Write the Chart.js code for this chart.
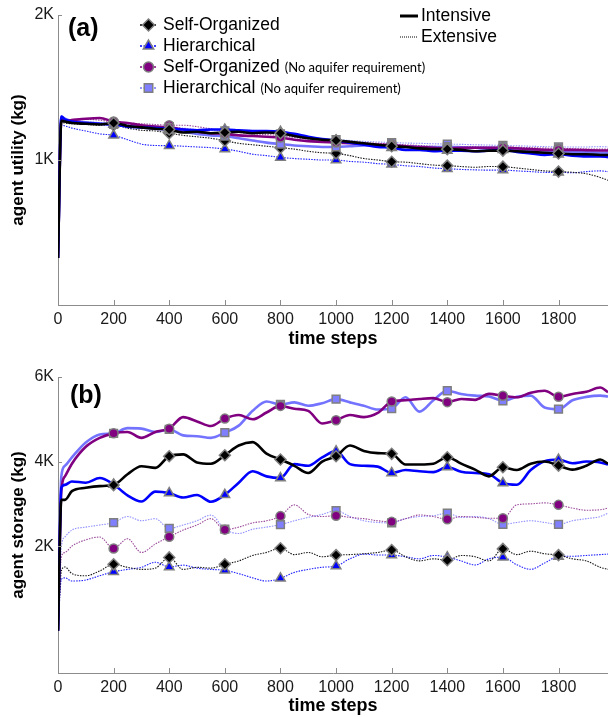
<!DOCTYPE html>
<html>
<head>
<meta charset="utf-8">
<script src="https://cdn.jsdelivr.net/npm/chart.js@4.4.1/dist/chart.umd.min.js"></script>
<style>
  body { margin: 0; background: #fff; }
  #wrap { position: relative; width: 608px; height: 717px; }
  canvas { position: absolute; left: 0; }
</style>
</head>
<body>
<div id="wrap">
  <canvas id="utility" width="608" height="350" style="top:0"></canvas>
  <canvas id="storage" width="608" height="367" style="top:350px"></canvas>
</div>
<script>
// time axis shared by both panels
const timeSteps = [0, 12, 25, 50, 100, 150, 200, 250, 300, 350, 400, 450, 500, 550, 600, 650, 700, 750, 800, 850, 900, 950,
  1000, 1050, 1100, 1150, 1200, 1250, 1300, 1350, 1400, 1450, 1500, 1550, 1600, 1650, 1700, 1750, 1800, 1850, 1900, 1950, 1978]
const xTickValues = [0, 200, 400, 600, 800, 1000, 1200, 1400, 1600, 1800]
const utilityTickValues = [1000, 2000]
const storageTickValues = [2000, 4000, 6000]

const seriesNames = ["Self-Organized", "Hierarchical", "Self-Organized", "Hierarchical"]
const seriesNotes = ["", "", "(No aquifer requirement)", "(No aquifer requirement)"]
const modeNames = ["Intensive", "Extensive"]

// (a) agent utility (kg)
const utilSelfOrgInt = [324,1270,1265,1255,1250,1245,1255,1235,1225,1215,1210,1190,1195,1185,1190,1195,1185,1190,1185,1165,1150,1140,1135,1125,1115,1105,1095,1090,1080,1075,1075,1070,1060,1065,1065,1060,1055,1050,1045,1040,1040,1035,1035]
const utilHierInt = [324,1300,1280,1265,1255,1250,1245,1230,1225,1220,1215,1210,1205,1210,1210,1205,1200,1200,1195,1180,1160,1145,1135,1120,1105,1090,1085,1070,1070,1060,1065,1065,1060,1065,1070,1055,1045,1035,1040,1030,1025,1025,1020]
const utilSelfOrgNaInt = [324,1275,1270,1275,1285,1290,1265,1255,1240,1230,1225,1210,1195,1185,1180,1170,1165,1160,1155,1140,1130,1125,1120,1115,1110,1105,1103,1095,1090,1085,1080,1085,1085,1085,1085,1080,1075,1070,1069,1070,1068,1066,1065]
const utilHierNaInt = [324,1300,1285,1270,1260,1250,1245,1235,1225,1215,1210,1195,1180,1170,1165,1150,1135,1120,1110,1100,1095,1090,1090,1095,1100,1100,1100,1095,1090,1090,1090,1088,1085,1085,1080,1075,1070,1065,1060,1058,1055,1050,1050]
const utilSelfOrgExt = [324,1260,1255,1250,1245,1240,1240,1220,1205,1200,1185,1170,1160,1150,1133,1115,1105,1095,1085,1075,1060,1050,1046,1030,1010,1000,988,985,975,965,961,955,950,955,954,945,935,925,920,915,905,880,860]
const utilHierExt = [324,1240,1235,1220,1200,1180,1170,1140,1110,1100,1099,1095,1090,1085,1076,1060,1040,1030,1018,1010,1005,1000,1000,990,985,975,970,960,955,945,940,935,932,930,931,925,920,915,915,912,920,925,920]
const utilSelfOrgNaExt = [324,1280,1275,1280,1280,1275,1260,1255,1250,1245,1240,1240,1230,1215,1200,1190,1180,1175,1170,1155,1145,1135,1130,1125,1120,1115,1110,1105,1100,1095,1090,1092,1092,1090,1090,1088,1085,1082,1080,1078,1076,1075,1075]
const utilHierNaExt = [324,1295,1285,1275,1265,1258,1250,1245,1240,1235,1230,1220,1210,1205,1200,1195,1190,1185,1180,1165,1155,1145,1140,1135,1128,1124,1120,1117,1115,1112,1110,1108,1105,1103,1100,1098,1095,1092,1090,1090,1090,1092,1090]

// (b) agent storage (kg)
const storSelfOrgInt = [0,3095,3095,3300,3380,3420,3444,3700,3890,3850,4127,4170,3980,3950,4150,4380,4460,4190,4048,3900,3730,4000,4127,4380,4250,4200,4183,3929,3930,3950,4103,3950,3810,3651,3865,3800,3950,4000,3905,3810,3900,4048,3950]
const storHierInt = [0,3380,3450,3530,3500,3610,3460,3200,3055,3290,3254,3150,3210,3050,3214,3500,3770,3650,3611,3940,3900,4100,4246,3940,3900,3880,3730,3800,3770,3750,3873,3760,3730,3700,3492,3452,3800,4008,4048,3960,4000,3980,3929]
const storSelfOrgNaInt = [0,3300,3650,3950,4350,4560,4667,4700,4560,4700,4778,5050,4950,4840,5016,5100,5000,5160,5317,5250,5200,4900,4976,5100,5050,5150,5420,5450,5480,5500,5405,5480,5460,5600,5556,5520,5630,5675,5532,5600,5650,5750,5640]
const storHierNaInt = [0,3650,3900,4100,4450,4640,4667,4790,4780,4700,4760,4620,4600,4560,4683,4850,5200,5420,5350,5400,5320,5380,5476,5400,5320,5230,5254,5520,5180,5450,5675,5600,5560,5540,5437,5530,5560,5278,5238,5450,5530,5560,5540]
const storSelfOrgExt = [0,1412,1507,1350,1300,1412,1570,1500,1450,1480,1733,1450,1500,1480,1570,1650,1780,1852,1950,1800,1850,1750,1788,1800,1820,1850,1910,1750,1652,1700,1665,1780,1750,1650,1935,1800,1880,1820,1788,1700,1650,1500,1452]
const storHierExt = [0,1214,1250,1175,1200,1300,1395,1450,1500,1620,1507,1550,1480,1450,1428,1350,1250,1175,1238,1380,1450,1500,1531,1700,1812,1790,1788,1750,1700,1780,1740,1650,1555,1700,1740,1560,1452,1600,1755,1760,1780,1800,1812]
const storSelfOrgNaExt = [0,1745,1850,2000,2150,2215,1945,2175,1850,2050,2220,2380,2500,2650,2390,2450,2550,2600,2710,2976,2750,2700,2720,2680,2650,2600,2574,2650,2738,2700,2635,2700,2680,2660,2659,2976,3000,3024,2976,2900,2850,2860,2900]
const storHierNaExt = [0,1980,2220,2380,2450,2500,2555,2700,2600,2650,2420,2500,2600,2734,2400,2300,2400,2450,2510,2600,2680,2750,2838,2700,2600,2560,2550,2650,2700,2720,2778,2680,2700,2650,2516,2560,2600,2560,2516,2600,2650,2700,2778]

const FONT = '"Liberation Sans", Arial, sans-serif'
const AXIS_GREY = "#8c8c8c"
const MARKER_EDGE = "#7f7f7f"

// one style per organisation type, in the order of seriesNames
const kinds = [
  { line: "#000000", fill: "#000000", thin: "#1a1a1a", point: "rectRot", radius: 5.5 },
  { line: "#0000ff", fill: "#0000ff", thin: "#1f1fff", point: "triangle", radius: 5.5 },
  { line: "#800080", fill: "#800080", thin: "#9a4a9a", point: "circle", radius: 4.5 },
  { line: "#7373ff", fill: "#7f7fff", thin: "#8f8fff", point: "rect", radius: 5.5 }
]

function series(values, kindIdx, intensive) {
  const k = kinds[kindIdx]
  return {
    data: timeSteps.map((t, i) => ({ x: t, y: values[i] })),
    borderColor: intensive ? k.line : k.thin,
    borderWidth: intensive ? 2.6 : 1.1,
    borderDash: intensive ? [] : [1.5, 1.2],
    cubicInterpolationMode: "monotone",
    pointStyle: k.point,
    pointRadius: timeSteps.map(t => (t > 0 && t % 200 === 0) ? k.radius : 0),
    pointBackgroundColor: k.fill,
    pointBorderColor: MARKER_EDGE,
    pointBorderWidth: 1.5
  }
}

// short inward tick marks like the original figure
const innerTicks = {
  id: "innerTicks",
  afterDraw(chart) {
    const { ctx, chartArea, scales: { x, y } } = chart
    ctx.save()
    ctx.strokeStyle = AXIS_GREY
    ctx.lineWidth = 1
    ctx.beginPath()
    x.ticks.forEach(t => {
      const px = Math.round(x.getPixelForValue(t.value)) + 0.5
      ctx.moveTo(px, chartArea.bottom)
      ctx.lineTo(px, chartArea.bottom - 5)
    })
    y.ticks.forEach(t => {
      const py = Math.round(y.getPixelForValue(t.value)) + 0.5
      ctx.moveTo(chartArea.left, py)
      ctx.lineTo(chartArea.left + 4, py)
    })
    ctx.stroke()
    ctx.restore()
  }
}

// panel tag plus the two in-plot legends of panel (a)
const panelLegend = {
  id: "panelLegend",
  afterDraw(chart, args, opts) {
    const ctx = chart.ctx
    ctx.save()
    ctx.fillStyle = "#000"
    ctx.textBaseline = "middle"
    ctx.font = `bold 25px ${FONT}`
    ctx.fillText(opts.tag, opts.tagX, opts.tagY)

    if (opts.legend) {
      seriesNames.forEach((name, i) => {
        const k = kinds[i]
        const y = 25 + i * 21
        ctx.save()
        ctx.strokeStyle = k.line
        ctx.lineWidth = 1.5
        ctx.setLineDash([2, 1.5])
        ctx.beginPath()
        ctx.moveTo(140, y)
        ctx.lineTo(157, y)
        ctx.stroke()
        ctx.restore()
        ctx.fillStyle = k.fill
        ctx.strokeStyle = MARKER_EDGE
        ctx.lineWidth = 1.5
        Chart.helpers.drawPoint(ctx, { pointStyle: k.point, radius: k.radius + 0.5, rotation: 0, borderWidth: 1.5 }, 148.5, y)
        ctx.fillStyle = "#000"
        ctx.font = `17.5px ${FONT}`
        ctx.fillText(name, 163, y)
        if (seriesNotes[i]) {
          const w = ctx.measureText(name).width
          ctx.font = '13px Lato, "Open Sans", sans-serif'
          ctx.fillText(seriesNotes[i], 163 + w + 5, y + 1)
        }
      })

      modeNames.forEach((name, i) => {
        const y = 16 + i * 21
        ctx.save()
        ctx.strokeStyle = "#000"
        ctx.lineWidth = i === 0 ? 3 : 1
        ctx.setLineDash(i === 0 ? [] : [1, 1])
        ctx.beginPath()
        ctx.moveTo(400, y)
        ctx.lineTo(418, y)
        ctx.stroke()
        ctx.restore()
        ctx.fillStyle = "#000"
        ctx.font = `17.5px ${FONT}`
        ctx.fillText(name, 421, y)
      })
    }
    ctx.restore()
  }
}

function makeOptions(yTitle, yMin, yMax, yTicks, padTop, xHeight, legendOpts) {
  return {
    responsive: false,
    animation: false,
    layout: { padding: { top: padTop, right: 0, left: 0, bottom: 0 } },
    plugins: {
      legend: { display: false },
      tooltip: { enabled: false },
      panelLegend: legendOpts
    },
    scales: {
      x: {
        type: "linear",
        min: 0,
        max: 1978,
        afterBuildTicks: s => { s.ticks = xTickValues.map(v => ({ value: v })) },
        afterFit: s => { s.height = xHeight },
        grid: { drawOnChartArea: false, drawTicks: false },
        border: { display: true, color: AXIS_GREY, width: 1 },
        ticks: { color: "#1a1a1a", padding: 5, font: { family: FONT, size: 16 }, callback: v => String(v) },
        title: { display: true, text: "time steps", color: "#000", padding: 0, font: { family: FONT, size: 18, weight: "bold" } }
      },
      y: {
        min: yMin,
        max: yMax,
        afterBuildTicks: s => { s.ticks = yTicks.map(v => ({ value: v })) },
        afterFit: s => { s.width = 58 },
        grid: { drawOnChartArea: false, drawTicks: false },
        border: { display: true, color: AXIS_GREY, width: 1 },
        ticks: { color: "#1a1a1a", padding: 4, font: { family: FONT, size: 16 }, callback: v => (v / 1000) + "K" },
        title: { display: true, text: yTitle, color: "#000", padding: { top: 8, bottom: 0 }, font: { family: FONT, size: 17, weight: "bold" } }
      }
    }
  }
}

new Chart(document.getElementById("utility"), {
  type: "line",
  data: {
    datasets: [
      series(utilSelfOrgInt, 0, true),
      series(utilHierInt, 1, true),
      series(utilSelfOrgNaInt, 2, true),
      series(utilHierNaInt, 3, true),
      series(utilSelfOrgExt, 0, false),
      series(utilHierExt, 1, false),
      series(utilSelfOrgNaExt, 2, false),
      series(utilHierNaExt, 3, false)
    ]
  },
  options: makeOptions("agent utility (kg)", 0, 2000, utilityTickValues, 15, 45,
    { tag: "(a)", tagX: 68, tagY: 29, legend: true }),
  plugins: [innerTicks, panelLegend]
})

new Chart(document.getElementById("storage"), {
  type: "line",
  data: {
    datasets: [
      series(storSelfOrgInt, 0, true),
      series(storHierInt, 1, true),
      series(storSelfOrgNaInt, 2, true),
      series(storHierNaInt, 3, true),
      series(storSelfOrgExt, 0, false),
      series(storHierExt, 1, false),
      series(storSelfOrgNaExt, 2, false),
      series(storHierNaExt, 3, false)
    ]
  },
  options: makeOptions("agent storage (kg)", -1000, 6000, storageTickValues, 27, 44,
    { tag: "(b)", tagX: 70, tagY: 46, legend: false }),
  plugins: [innerTicks, panelLegend]
})
</script>
</body>
</html>
